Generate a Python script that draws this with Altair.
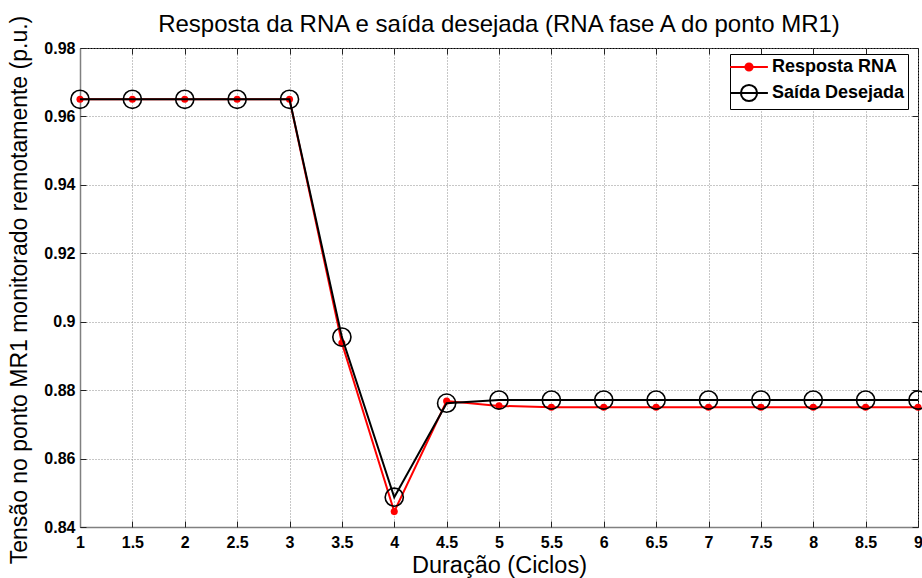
import altair as alt
import pandas as pd

# Cycle positions (x) and the two series
cycles = [1.0, 1.5, 2.0, 2.5, 3.0, 3.5, 4.0, 4.5, 5.0, 5.5, 6.0, 6.5, 7.0, 7.5, 8.0, 8.5, 9.0]
rna_response = [0.965, 0.965, 0.965, 0.965, 0.965, 0.8938, 0.8445, 0.8768, 0.8754,
                0.8750, 0.8750, 0.8750, 0.8750, 0.8750, 0.8750, 0.8750, 0.8750]
desired_output = [0.965, 0.965, 0.965, 0.965, 0.965, 0.8955, 0.8487, 0.8762, 0.8771,
                  0.8771, 0.8771, 0.8771, 0.8771, 0.8771, 0.8771, 0.8771, 0.8771]

series_names = ["Resposta RNA", "Saída Desejada"]
x_ticks = [1, 1.5, 2, 2.5, 3, 3.5, 4, 4.5, 5, 5.5, 6, 6.5, 7, 7.5, 8, 8.5, 9]
y_ticks = [0.84, 0.86, 0.88, 0.9, 0.92, 0.94, 0.96, 0.98]

W, H = 838, 479
FONT = "Liberation Sans"
RED = "#ff0000"
BLACK = "#000000"

df = pd.DataFrame({
    "ciclo": cycles * 2,
    "valor": rna_response + desired_output,
    "serie": [series_names[0]] * len(cycles) + [series_names[1]] * len(cycles),
})

x_scale = alt.Scale(domain=[1, 9], nice=False, zero=False)
y_scale = alt.Scale(domain=[0.84, 0.98], nice=False, zero=False)

GRID = dict(grid=True, gridColor="#8f8f8f", gridDash=[1, 2], gridWidth=1)

# Main axes: labels, titles and dotted grid
x_main = alt.Axis(orient="bottom", values=x_ticks, format="~g", ticks=False,
                  domain=True, domainColor="#808080", domainWidth=1.5, **GRID,
                  labelFont=FONT, labelFontSize=16, labelFontWeight="bold",
                  labelColor="black", labelPadding=7, labelFlush=False,
                  title="Duração (Ciclos)", titleFont=FONT, titleFontSize=23.5,
                  titleFontWeight="normal", titleColor="black",
                  titleX=W / 2, titleY=45, titleBaseline="alphabetic")
y_main = alt.Axis(orient="left", values=y_ticks, format="~g", ticks=False,
                  domain=True, domainColor="#808080", domainWidth=1.5, **GRID,
                  labelFont=FONT, labelFontSize=16, labelFontWeight="bold",
                  labelColor="black", labelPadding=5, labelFlush=False,
                  title="Tensão no ponto MR1 monitorado remotamente (p.u.)",
                  titleFont=FONT, titleFontSize=23, titleFontWeight="normal",
                  titleColor="black", titleAngle=270, titleX=-61, titleY=H / 2 + 2,
                  titleAlign="center", titleBaseline="middle")


def inner_ticks(orient, values, offset):
    # Tick-only axis moved across the plot so its ticks point inward
    return alt.Axis(orient=orient, values=values, offset=offset, labels=False,
                    domain=False, grid=False, ticks=True, tickSize=6,
                    tickColor="#222222", tickWidth=1, title=None)


base = alt.Chart(df)

red_line = base.transform_filter(alt.datum.serie == series_names[0]).mark_line(
    color=RED, strokeWidth=2
).encode(
    x=alt.X("ciclo:Q", scale=x_scale, axis=x_main),
    y=alt.Y("valor:Q", scale=y_scale, axis=y_main),
)

red_points = base.transform_filter(alt.datum.serie == series_names[0]).mark_point(
    filled=True, color=RED, size=50, opacity=1
).encode(
    x=alt.X("ciclo:Q", scale=x_scale, axis=inner_ticks("top", x_ticks, -H)),
    y=alt.Y("valor:Q", scale=y_scale, axis=inner_ticks("right", y_ticks, -W)),
)

black_line = base.transform_filter(alt.datum.serie == series_names[1]).mark_line(
    color=BLACK, strokeWidth=2
).encode(
    x=alt.X("ciclo:Q", scale=x_scale, axis=inner_ticks("bottom", x_ticks, -H)),
    y=alt.Y("valor:Q", scale=y_scale, axis=inner_ticks("left", y_ticks, -W)),
)

black_circles = base.transform_filter(alt.datum.serie == series_names[1]).mark_point(
    filled=False, color=BLACK, size=330, strokeWidth=1.6, opacity=1
).encode(
    x=alt.X("ciclo:Q", scale=x_scale, axis=None),
    y=alt.Y("valor:Q", scale=y_scale, axis=None),
)

# Legend glyphs: line with a filled dot, line with an open circle
red_glyph = ("M-2.1,0L2.1,0M-0.4,0A0.4,0.4 0 1,0 0.4,0"
             "A0.4,0.4 0 1,0 -0.4,0Z")
black_glyph = ("M-2.1,0L-0.9,0M0.9,0L2.1,0M-0.9,0L0.9,0M-0.9,0A0.9,0.9 0 1,0 0.9,0"
               "A0.9,0.9 0 1,0 -0.9,0Z")

legend_spec = alt.Legend(title=None, orient="none", legendX=650, legendY=6,
                         labelFont=FONT, labelFontSize=18, labelFontWeight="bold",
                         labelColor="black", labelOffset=13, symbolOffset=6,
                         symbolSize=324, symbolStrokeWidth=2, rowPadding=4,
                         padding=3, fillColor="white", strokeColor="black")

legend_layer = base.transform_filter("false").mark_point(size=324, opacity=1).encode(
    x=alt.X("ciclo:Q", scale=x_scale, axis=None),
    y=alt.Y("valor:Q", scale=y_scale, axis=None),
    shape=alt.Shape("serie:N", scale=alt.Scale(domain=series_names,
                                                range=[red_glyph, black_glyph]),
                    legend=legend_spec),
    stroke=alt.Stroke("serie:N", scale=alt.Scale(domain=series_names,
                                                  range=[RED, BLACK]),
                      legend=legend_spec),
    fill=alt.Fill("serie:N", scale=alt.Scale(domain=series_names,
                                              range=[RED, "transparent"]),
                  legend=legend_spec),
)

chart = alt.layer(red_line, red_points, black_line, black_circles, legend_layer).resolve_axis(
    x="independent", y="independent"
).properties(
    width=W, height=H,
    title=alt.TitleParams(
        "Resposta da RNA e saída desejada (RNA fase A do ponto MR1)",
        font=FONT, fontSize=24, fontWeight="normal", color="black",
        anchor="middle", offset=-10, dy=31, baseline="alphabetic",
    ),
    autosize=alt.AutoSizeParams(type="none"),
    padding={"left": 80, "top": 48, "right": 4, "bottom": 51},
    background="white",
).configure_view(stroke="black", strokeWidth=1)

chart.save("out.html", embed_options={"renderer": "svg", "actions": False})
